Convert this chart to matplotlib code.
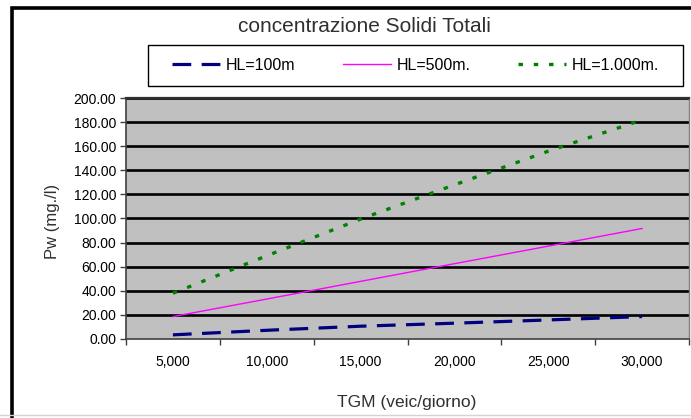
import matplotlib
matplotlib.use("Agg")
import matplotlib.pyplot as plt
from matplotlib.patches import Rectangle
from matplotlib.lines import Line2D

plt.rcParams['font.family'] = ['Liberation Sans', 'DejaVu Sans']
plt.rcParams['lines.scale_dashes'] = False

# dati
tgm_labels = ['5,000', '10,000', '15,000', '20,000', '25,000', '30,000']
hl_100 = [3.2, 7.0, 10.4, 12.9, 15.6, 18.4]
hl_500 = [18.4, 33.0, 47.7, 62.4, 77.0, 91.7]
hl_1000 = [37.8, 69.0, 99.5, 128.0, 156.0, 182.0]
y_ticks = [0, 20, 40, 60, 80, 100, 120, 140, 160, 180, 200]

W, H = 691, 418
fig = plt.figure(figsize=(W / 100, H / 100), dpi=100)

# cornice esterna del grafico (tagliata a destra e in basso)
fig.patches.append(Rectangle((12 / W, -0.2), 1.2, 1.2 - 8 / H,
                             transform=fig.transFigure, fill=False,
                             edgecolor='black', lw=2.6))
fig.lines.append(Line2D([0, 1], [3 / H, 3 / H], transform=fig.transFigure,
                        color='#d4d4d4', lw=1))

ax = fig.add_axes([126 / W, (H - 338.7) / H, (689 - 126) / W, (338.7 - 98.3) / H])
ax.set_facecolor('#c0c0c0')

x = list(range(len(tgm_labels)))
ax.plot(x, hl_100, color='#000080', lw=2.3, dashes=(13.5, 7.5), label='HL=100m')
ax.plot(x, hl_500, color='#ff00ff', lw=1.0, label='HL=500m.')
ax.plot(x, hl_1000, color='#008000', lw=2.4, dashes=(3.2, 7.8), label='HL=1.000m.')

ax.set_xlim(-0.5, len(tgm_labels) - 0.5)
ax.set_ylim(0, 200)

# griglia orizzontale nera
for v in y_ticks[1:]:
    ax.axhline(v, color='black', lw=1.9, zorder=1)

ax.set_yticks(y_ticks)
ax.set_yticklabels(['%.2f' % v for v in y_ticks], fontsize=10)
ax.set_xticks([i - 0.5 for i in range(len(tgm_labels) + 1)])
ax.set_xticklabels([])
ax.set_xticks(x, minor=True)
ax.set_xticklabels(tgm_labels, minor=True, fontsize=10)
ax.tick_params(axis='x', which='minor', length=0, pad=12)
ax.tick_params(axis='x', which='major', length=4, width=1, color='#404040', direction='out')
ax.tick_params(axis='y', length=4, width=1, color='#404040', direction='out', pad=3)

for s in ['left', 'bottom']:
    ax.spines[s].set_color('#404040')
    ax.spines[s].set_linewidth(1.2)
ax.spines['top'].set_color('#303030')
ax.spines['top'].set_linewidth(1.6)
ax.spines['right'].set_color('#808080')
ax.spines['right'].set_linewidth(1.0)

fig.text(364 / W, 1 - 27 / H, 'concentrazione Solidi Totali', ha='center', va='center',
         fontsize=15, color='#303030')
fig.text(52 / W, 1 - 221 / H, 'Pw (mg./l)', ha='center', va='center', rotation=90,
         fontsize=12, color='#303030')
fig.text(407 / W, 1 - 402 / H, 'TGM (veic/giorno)', ha='center', va='center',
         fontsize=12.5, color='#303030')

# legenda: cornice disegnata a parte, voci allineate come nell'originale
fig.patches.append(Rectangle((148 / W, 1 - 86 / H), (683 - 148) / W, 41 / H,
                             transform=fig.transFigure, fill=False,
                             edgecolor='black', lw=1.0))
leg = fig.legend(loc='center left', ncol=3, bbox_to_anchor=(172 / W, 1 - 65.5 / H),
                 fontsize=11.5, frameon=False, handlelength=3.0,
                 handletextpad=0.35, columnspacing=3.0, borderpad=0, borderaxespad=0)

fig.savefig('out.png', dpi=100)
